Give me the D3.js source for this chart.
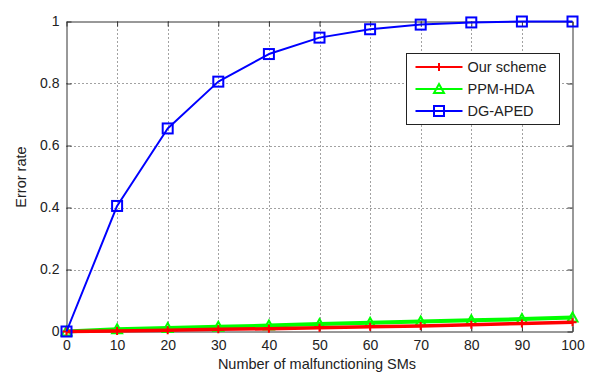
<!DOCTYPE html>
<html>
<head>
<meta charset="utf-8">
<script src="https://cdn.jsdelivr.net/npm/d3@7"></script>
<style>
  html, body { margin: 0; padding: 0; background: #fff; }
  svg text { font-family: "Liberation Sans", Arial, sans-serif; fill: #222; }
</style>
</head>
<body>
<svg id="chart" width="590" height="375"></svg>
<script>
// Number of malfunctioning smart meters on the x axis
const malfunctioning = [0, 10, 20, 30, 40, 50, 60, 70, 80, 90, 100];
// Error rate of each scheme
const ourScheme = [0, 0.002, 0.004, 0.007, 0.009, 0.012, 0.015, 0.018, 0.022, 0.026, 0.030];
const ppmHda    = [0, 0.007, 0.011, 0.015, 0.019, 0.024, 0.028, 0.032, 0.036, 0.040, 0.045];
const dgAped    = [0, 0.405, 0.655, 0.806, 0.895, 0.948, 0.975, 0.990, 0.997, 1.0, 1.0];
const xTicks = [0, 10, 20, 30, 40, 50, 60, 70, 80, 90, 100];
const yTicks = [0, 0.2, 0.4, 0.6, 0.8, 1];
const seriesNames = ["Our scheme", "PPM-HDA", "DG-APED"];

const svg = d3.select("#chart");
const plotLeft = 66.5, plotRight = 572.5, plotTop = 21.5, plotBottom = 331.5;

const x = d3.scaleLinear().domain([0, 100]).range([plotLeft, plotRight]);
const y = d3.scaleLinear().domain([0, 1]).range([plotBottom, plotTop]);

const axisColor = "#333";

// Dotted grid
const grid = svg.append("g").attr("stroke", "#444").attr("stroke-width", 1)
  .attr("stroke-dasharray", "1,3");
xTicks.slice(1, -1).forEach(t => {
  grid.append("line").attr("x1", Math.round(x(t)) + 0.5).attr("x2", Math.round(x(t)) + 0.5)
    .attr("y1", plotTop).attr("y2", plotBottom);
});
yTicks.slice(1, -1).forEach(t => {
  grid.append("line").attr("y1", Math.round(y(t)) + 0.5).attr("y2", Math.round(y(t)) + 0.5)
    .attr("x1", plotLeft).attr("x2", plotRight);
});

// Axes with inward ticks on all four sides
const fmtY = d => d === 0 ? "0" : d === 1 ? "1" : d3.format(".1f")(d);
const axB = svg.append("g").attr("transform", `translate(0,${plotBottom})`)
  .call(d3.axisBottom(x).tickValues(xTicks).tickSizeInner(-5).tickSizeOuter(0).tickPadding(9));
const axL = svg.append("g").attr("transform", `translate(${plotLeft},0)`)
  .call(d3.axisLeft(y).tickValues(yTicks).tickFormat(fmtY).tickSizeInner(-5).tickSizeOuter(0).tickPadding(7));
const axT = svg.append("g").attr("transform", `translate(0,${plotTop})`)
  .call(d3.axisTop(x).tickValues(xTicks).tickSizeInner(-5).tickSizeOuter(0).tickFormat(""));
const axR = svg.append("g").attr("transform", `translate(${plotRight},0)`)
  .call(d3.axisRight(y).tickValues(yTicks).tickSizeInner(-5).tickSizeOuter(0).tickFormat(""));
[axB, axL, axT, axR].forEach(a => {
  a.select(".domain").attr("stroke", axisColor);
  a.selectAll(".tick line").attr("stroke", axisColor);
  a.selectAll(".tick text").attr("font-size", 14).attr("fill", "#222")
    .attr("font-family", "'Liberation Sans', Arial, sans-serif");
});

// Axis titles
svg.append("text").attr("x", 317).attr("y", 369).attr("text-anchor", "middle")
  .attr("font-size", 14.5).text("Number of malfunctioning SMs");
svg.append("text").attr("transform", "translate(26,177) rotate(-90)")
  .attr("text-anchor", "middle").attr("font-size", 14.5).text("Error rate");

const line = d3.line().x((d, i) => x(malfunctioning[i])).y(d => y(d));

// Marker drawing helpers
function plus(g, cx, cy, color) {
  g.append("path").attr("d", `M${cx - 4},${cy}H${cx + 4}M${cx},${cy - 4}V${cy + 4}`)
    .attr("stroke", color).attr("stroke-width", 2).attr("fill", "none");
}
function tri(g, cx, cy, color) {
  g.append("path").attr("d", `M${cx},${cy - 5}L${cx + 5},${cy + 4}L${cx - 5},${cy + 4}Z`)
    .attr("stroke", color).attr("stroke-width", 2).attr("fill", "none");
}
function sq(g, cx, cy, color) {
  g.append("rect").attr("x", cx - 5).attr("y", cy - 5).attr("width", 10).attr("height", 10)
    .attr("stroke", color).attr("stroke-width", 2).attr("fill", "none");
}

const plot = svg.append("g");
const series = [
  { data: ppmHda, color: "#00ff00", width: 4, marker: tri },
  { data: ourScheme, color: "#ff0000", width: 3.5, marker: plus },
  { data: dgAped, color: "#0000ff", width: 2, marker: sq }
];
series.forEach(s => {
  plot.append("path").datum(s.data).attr("d", line).attr("fill", "none")
    .attr("stroke", s.color).attr("stroke-width", s.width).attr("stroke-linejoin", "round");
  const mg = plot.append("g");
  s.data.forEach((v, i) => s.marker(mg, x(malfunctioning[i]), y(v), s.color));
});

// Legend
const lg = svg.append("g").attr("transform", "translate(406.5,53.5)");
lg.append("rect").attr("width", 153).attr("height", 71).attr("fill", "#fff")
  .attr("stroke", "#222").attr("stroke-width", 1);
const legendItems = [
  { name: seriesNames[0], color: "#ff0000", marker: plus },
  { name: seriesNames[1], color: "#00ff00", marker: tri },
  { name: seriesNames[2], color: "#0000ff", marker: sq }
];
const rowY = [13.5, 35.5, 57.5];
legendItems.forEach((it, i) => {
  const yy = rowY[i];
  lg.append("line").attr("x1", 9).attr("x2", 56).attr("y1", yy).attr("y2", yy)
    .attr("stroke", it.color).attr("stroke-width", 2);
  it.marker(lg, 32.5, yy, it.color);
  lg.append("text").attr("x", 61).attr("y", yy + 5).attr("font-size", 14.5).text(it.name);
});
</script>
</body>
</html>
